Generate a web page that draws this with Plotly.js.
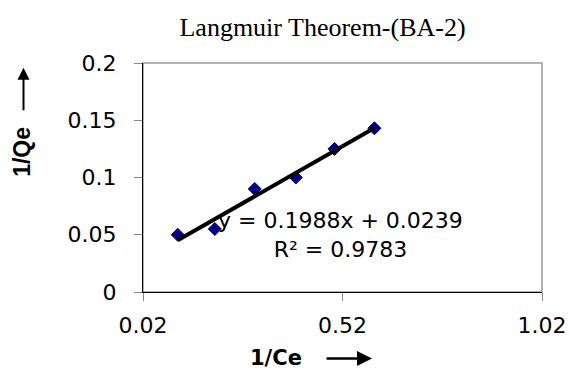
<!DOCTYPE html>
<html>
<head>
<meta charset="utf-8">
<script src="https://cdn.plot.ly/plotly-3.0.1.min.js"></script>
<style>
  html, body { margin: 0; padding: 0; background: #fff; }
  #chart { width: 570px; height: 369px; }
</style>
</head>
<body>
<div id="chart"></div>
<script>
// Data
const invCe = [0.107, 0.2, 0.3, 0.403, 0.5, 0.6];          // 1/Ce
const invQe = [0.05, 0.055, 0.09, 0.1, 0.125, 0.143];       // 1/Qe
const slope = 0.1988;
const intercept = 0.0239;
const rSquared = 0.9783;
const xTicks = [0.02, 0.52, 1.02];
const xTickText = ['0.02', '0.52', '1.02'];
const yTicks = [0, 0.05, 0.1, 0.15, 0.2];
const yTickText = ['0', '0.05', '0.1', '0.15', '0.2'];
const chartTitle = 'Langmuir Theorem-(BA-2)';
const xTitle = '1/Ce';
const yTitle = '1/Qe';

const xMin = Math.min(...invCe), xMax = Math.max(...invCe);
const fitX = [xMin, xMax];
const fitY = fitX.map(v => slope * v + intercept);

const points = {
  x: invCe, y: invQe, type: 'scatter', mode: 'markers',
  marker: { symbol: 'diamond', size: 10, color: '#000080', line: { color: '#000080', width: 1 } },
  hoverinfo: 'none', showlegend: false
};
const fit = {
  x: fitX, y: fitY, type: 'scatter', mode: 'lines',
  line: { color: '#000000', width: 4 },
  hoverinfo: 'none', showlegend: false
};

const sans = 'DejaVu Sans, Arial, sans-serif';
const layout = {
  width: 570, height: 369,
  margin: { l: 143, r: 28, t: 63, b: 77, pad: 0 },
  paper_bgcolor: '#ffffff', plot_bgcolor: '#ffffff',
  showlegend: false,
  title: {
    text: chartTitle,
    font: { family: 'Liberation Serif, Times New Roman, serif', size: 26, color: '#000' },
    xref: 'paper', x: 0.45, xanchor: 'center',
    yref: 'container', y: 0.927, yanchor: 'middle'
  },
  xaxis: {
    range: [0.02, 1.02], tickvals: xTicks, ticktext: xTickText,
    showgrid: false, zeroline: false,
    showline: true, linecolor: '#000', linewidth: 1,
    ticks: 'outside', ticklen: 8, tickcolor: '#888', tickwidth: 1,
    ticklabelstandoff: 6,
    tickfont: { family: sans, size: 22, color: '#000' }
  },
  yaxis: {
    range: [0, 0.2], tickvals: yTicks, ticktext: yTickText,
    showgrid: false, zeroline: false,
    showline: true, linecolor: '#000', linewidth: 1,
    ticks: 'outside', ticklen: 8, tickcolor: '#888', tickwidth: 1,
    ticklabelstandoff: 13,
    tickfont: { family: sans, size: 22, color: '#000' }
  },
  shapes: [
    { type: 'rect', xref: 'paper', yref: 'paper', x0: 0, x1: 1, y0: 0, y1: 1,
      line: { color: '#999', width: 1.5 }, layer: 'below' }
  ],
  annotations: [
    { xref: 'paper', yref: 'paper', x: 0.496, y: 0.25, xanchor: 'center', yanchor: 'middle',
      text: 'y = ' + slope + 'x + ' + intercept + '<br>R² = ' + rSquared,
      showarrow: false, align: 'center',
      font: { family: sans, size: 22, color: '#000' } },
    { xref: 'paper', yref: 'paper', x: 0.333, y: -0.29, xanchor: 'center', yanchor: 'middle',
      text: '<b>' + xTitle + '</b>', showarrow: false,
      font: { family: 'DejaVu Sans, Arial, sans-serif', size: 21, color: '#000' } },
    { xref: 'paper', yref: 'paper', x: -0.302, y: 0.61, xanchor: 'center', yanchor: 'middle',
      text: '<b>' + yTitle + '</b>', textangle: -90, showarrow: false,
      font: { family: 'Liberation Sans, Arial, sans-serif', size: 23, color: '#000' } },
    { xref: 'paper', yref: 'paper', x: 0.574, y: -0.29, text: '', showarrow: true,
      ax: -47, ay: 0, arrowhead: 2, arrowsize: 1.2, arrowwidth: 2.5, arrowcolor: '#000', standoff: 0 },
    { xref: 'paper', yref: 'paper', x: -0.2995, y: 0.979, text: '', showarrow: true,
      ax: 0, ay: 44, arrowhead: 2, arrowsize: 1.2, arrowwidth: 2, arrowcolor: '#000', standoff: 0 }
  ]
};

Plotly.newPlot('chart', [points, fit], layout, { staticPlot: true, displayModeBar: false });
</script>
</body>
</html>
